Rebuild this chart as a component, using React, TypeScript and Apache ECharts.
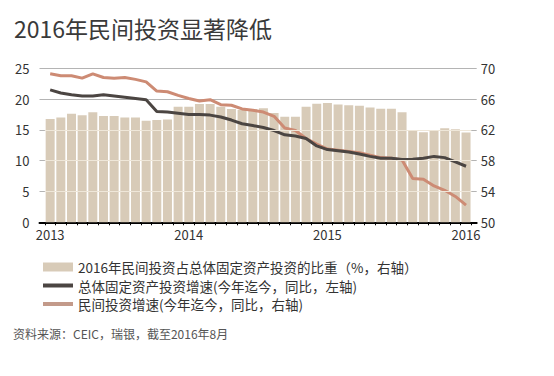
import React, { useEffect, useRef } from "react";
import * as echarts from "echarts";

const TITLE = "2016年民间投资显著降低";
const SOURCE = "资料来源：CEIC，瑞银，截至2016年8月";

const SERIES_NAMES = [
  "2016年民间投资占总体固定资产投资的比重（%，右轴）",
  "总体固定资产投资增速(今年迄今，同比，左轴)",
  "民间投资增速(今年迄今，同比，右轴)",
];

// x positions: one slot per observation (40 observations)
const YEAR_LABELS: Record<number, string> = { 0: "2013", 13: "2014", 26: "2015", 39: "2016" };

// share of private investment in total FAI (%, right axis)
const shareBars = [
  63.4, 63.6, 64.1, 63.9, 64.3, 63.8, 63.8, 63.6, 63.6, 63.2,
  63.3, 63.35, 65.0, 65.0, 65.35, 65.35, 65.0, 64.7, 64.6, 64.7,
  64.8, 64.2, 63.7, 63.7, 65.0, 65.4, 65.5, 65.3, 65.2, 65.15,
  64.9, 64.75, 64.75, 64.3, 61.9, 61.7, 62.0, 62.2, 62.1, 61.65,
];

// total FAI growth (YTD, yoy, left axis)
const totalGrowth = [
  21.5, 21.0, 20.7, 20.5, 20.5, 20.7, 20.5, 20.3, 20.1, 19.9,
  18.0, 17.9, 17.7, 17.5, 17.5, 17.4, 17.1, 16.6, 16.0, 15.7,
  15.4, 14.9, 14.2, 14.0, 13.6, 12.4, 11.8, 11.6, 11.4, 11.1,
  10.7, 10.4, 10.4, 10.2, 10.25, 10.4, 10.7, 10.5, 9.8, 9.1,
];

// private investment growth (YTD, yoy)
const privateGrowth = [
  24.1, 23.8, 23.8, 23.4, 24.1, 23.5, 23.4, 23.5, 23.2, 22.8,
  21.3, 21.2, 20.6, 20.1, 19.7, 19.9, 19.1, 19.0, 18.4, 18.2,
  17.9, 17.2, 15.3, 14.9, 13.6, 12.7, 11.9, 11.7, 11.5, 11.3,
  10.9, 10.5, 10.4, 10.1, 7.1, 7.0, 5.9, 5.2, 4.2, 2.8,
];

const LEFT_TICKS = { min: 0, max: 25, interval: 5 };
const RIGHT_TICKS = { min: 50, max: 70, interval: 4 };

const FONT = "'Noto Sans CJK SC', 'Noto Sans', sans-serif";
const LINE_ICON = "path://M0,0 M30,9 M0,2.5 L30,2.5 L30,6.5 L0,6.5 Z";

export default function App() {
  const ref = useRef<HTMLDivElement>(null);
  useEffect(() => {
    if (!ref.current) return;
    const chart = echarts.init(ref.current, undefined, { renderer: "svg" });
    const idx = (arr: number[]) => arr.map((v, i) => [i, v]);
    chart.setOption({
      animation: false,
      backgroundColor: "#ffffff",
      textStyle: { fontFamily: FONT },
      title: {
        text: TITLE,
        left: 9,
        top: 11,
        textStyle: { fontSize: 23, fontWeight: "normal", color: "#3a3a3a", fontFamily: FONT },
      },
      grid: { left: 39.5, right: 77.3, top: 68.3, bottom: 153.7 },
      legend: {
        orient: "vertical",
        left: 38,
        top: 255,
        itemWidth: 30,
        itemHeight: 9,
        itemGap: 4.5,
        selectedMode: false,
        symbolKeepAspect: false,
        textStyle: { fontSize: 13.5, lineHeight: 14, color: "#333", fontFamily: FONT },
        data: [
          { name: SERIES_NAMES[0], icon: "rect" },
          { name: SERIES_NAMES[1], icon: LINE_ICON },
          { name: SERIES_NAMES[2], icon: LINE_ICON },
        ],
      },
      xAxis: {
        type: "value",
        min: -1,
        max: 40,
        interval: 1,
        axisLine: { show: true, onZero: false, lineStyle: { color: "#000", width: 2 } },
        axisTick: { show: false },
        minorTick: { show: true, splitNumber: 2, length: 3, lineStyle: { color: "#000", width: 1 } },
        splitLine: { show: false },
        axisLabel: {
          margin: 6,
          fontSize: 13,
          color: "#333",
          fontFamily: FONT,
          formatter: (v: number) => YEAR_LABELS[Math.round(v)] ?? "",
        },
      },
      yAxis: [
        {
          type: "value",
          ...LEFT_TICKS,
          axisLine: { show: false },
          axisTick: { show: false },
          splitLine: { show: true, lineStyle: { color: "#b4b4b4", width: 1 } },
          axisLabel: { margin: 10, fontSize: 13, color: "#333", fontFamily: FONT },
        },
        {
          type: "value",
          ...RIGHT_TICKS,
          position: "right",
          axisLine: { show: false },
          axisTick: { show: false },
          splitLine: { show: false },
          axisLabel: { margin: 4, fontSize: 13, color: "#333", fontFamily: FONT },
        },
      ],
      series: [
        {
          name: SERIES_NAMES[0],
          type: "bar",
          yAxisIndex: 1,
          barWidth: 9,
          data: idx(shareBars),
          itemStyle: { color: "#d8cbb8" },
          z: 2,
          markLine: {
            silent: true,
            symbol: "none",
            label: { show: false },
            lineStyle: { color: "#efe7d9", width: 1, type: "solid" },
            data: [54, 58, 62].map((y) => [
              { coord: [-0.5, y] },
              { coord: [39.5, y] },
            ]),
          },
        },
        {
          name: SERIES_NAMES[1],
          type: "line",
          yAxisIndex: 0,
          data: idx(totalGrowth),
          symbol: "none",
          lineStyle: { color: "#4b4542", width: 3 },
          itemStyle: { color: "#4b4542" },
          z: 4,
        },
        {
          name: SERIES_NAMES[2],
          type: "line",
          yAxisIndex: 0,
          data: idx(privateGrowth),
          symbol: "none",
          lineStyle: { color: "#cd8b74", width: 3 },
          itemStyle: { color: "#c39a8a" },
          z: 3,
        },
      ],
      graphic: [
        {
          type: "text",
          left: 13,
          top: 327,
          style: { text: SOURCE, fontSize: 12, fill: "#555", fontFamily: FONT },
        },
      ],
    });
    return () => chart.dispose();
  }, []);
  return <div ref={ref} style={{ width: 554, height: 376, margin: -8 }} />;
}
